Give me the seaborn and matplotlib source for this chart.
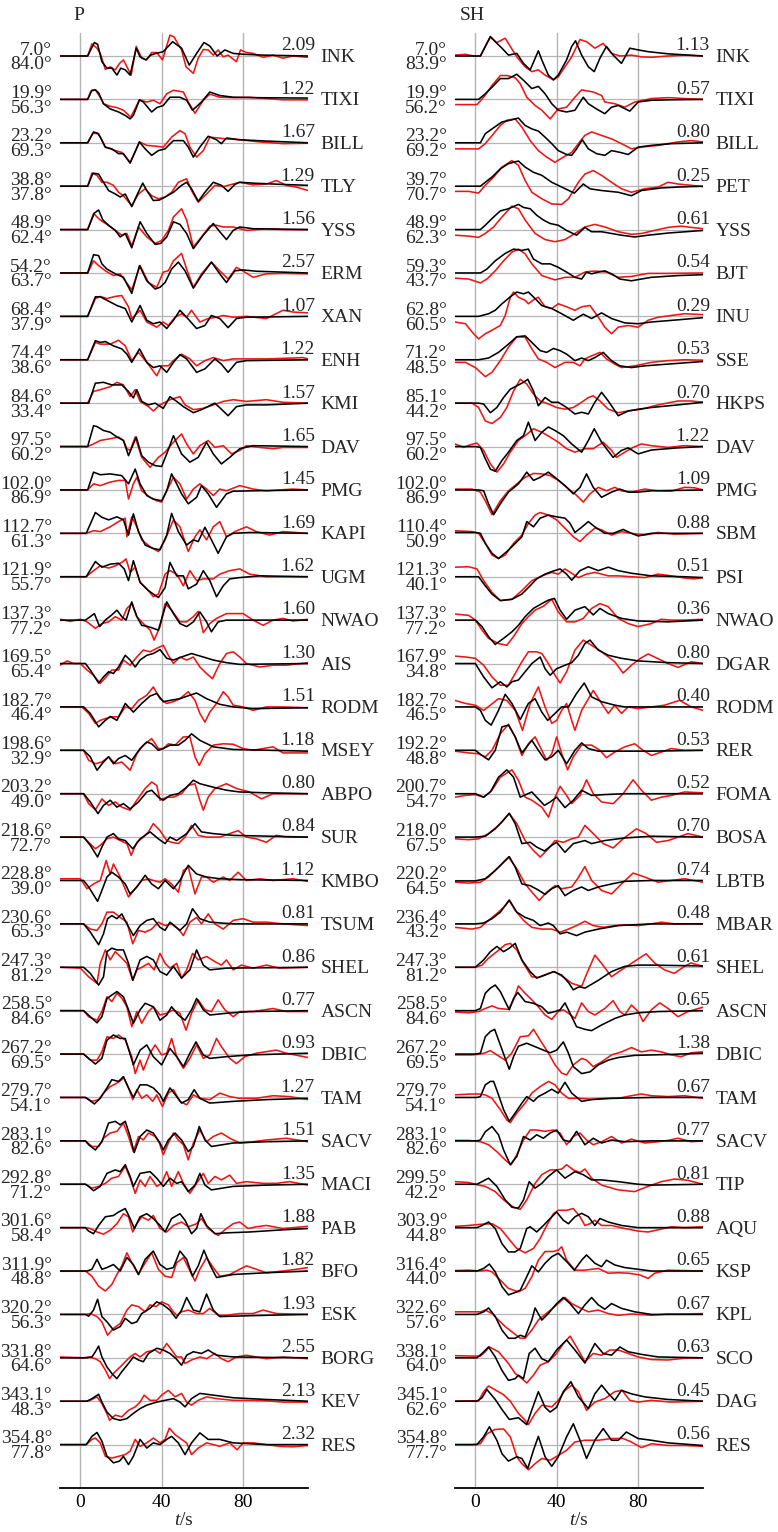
import matplotlib
matplotlib.use("Agg")
import matplotlib.pyplot as plt
import pandas as pd
import seaborn as sns
from matplotlib.transforms import blended_transform_factory

# ---------------- station tables ----------------
P_STATIONS = ["INK", "TIXI", "BILL", "TLY", "YSS", "ERM", "XAN", "ENH", "KMI", "DAV", "PMG",
              "KAPI", "UGM", "NWAO", "AIS", "RODM", "MSEY", "ABPO", "SUR", "KMBO", "TSUM",
              "SHEL", "ASCN", "DBIC", "TAM", "SACV", "MACI", "PAB", "BFO", "ESK", "BORG", "KEV", "RES"]
P_AZ = [7.0, 19.9, 23.2, 38.8, 48.9, 54.2, 68.4, 74.4, 84.6, 97.5, 102.0, 112.7, 121.9, 137.3,
        169.5, 182.7, 198.6, 203.2, 218.6, 228.8, 230.6, 247.3, 258.5, 267.2, 279.7, 283.1,
        292.8, 301.6, 311.9, 320.2, 331.8, 343.1, 354.8]
P_DIST = [84.0, 56.3, 69.3, 37.8, 62.4, 63.7, 37.9, 38.6, 33.4, 60.2, 86.9, 61.3, 55.7, 77.2,
          65.4, 46.4, 32.9, 49.0, 72.7, 39.0, 65.3, 81.2, 84.6, 69.5, 54.1, 82.6, 71.2, 58.4,
          48.8, 56.3, 64.6, 48.3, 77.8]
P_AMP = [2.09, 1.22, 1.67, 1.29, 1.56, 2.57, 1.07, 1.22, 1.57, 1.65, 1.45, 1.69, 1.62, 1.60,
         1.30, 1.51, 1.18, 0.80, 0.84, 1.12, 0.81, 0.86, 0.77, 0.93, 1.27, 1.51, 1.35, 1.88,
         1.82, 1.93, 2.55, 2.13, 2.32]

SH_STATIONS = ["INK", "TIXI", "BILL", "PET", "YSS", "BJT", "INU", "SSE", "HKPS", "DAV", "PMG",
               "SBM", "PSI", "NWAO", "DGAR", "RODM", "RER", "FOMA", "BOSA", "LBTB", "MBAR",
               "SHEL", "ASCN", "DBIC", "TAM", "SACV", "TIP", "AQU", "KSP", "KPL", "SCO", "DAG", "RES"]
SH_AZ = [7.0, 19.9, 23.2, 39.7, 48.9, 59.3, 62.8, 71.2, 85.1, 97.5, 102.0, 110.4, 121.3, 137.3,
         167.9, 182.7, 192.2, 200.7, 218.0, 220.2, 236.4, 247.3, 258.5, 267.2, 279.7, 283.1,
         299.5, 303.9, 316.4, 322.6, 338.1, 345.1, 354.8]
SH_DIST = [83.9, 56.2, 69.2, 70.7, 62.3, 43.7, 60.5, 48.5, 44.2, 60.2, 86.9, 50.9, 40.1, 77.2,
           34.8, 46.5, 48.8, 54.7, 67.5, 64.5, 43.2, 81.2, 84.6, 69.5, 54.1, 82.6, 42.2, 44.8,
           44.0, 57.6, 64.0, 62.6, 77.7]
SH_AMP = [1.13, 0.57, 0.80, 0.25, 0.61, 0.54, 0.29, 0.53, 0.70, 1.22, 1.09, 0.88, 0.51, 0.36,
          0.80, 0.40, 0.53, 0.52, 0.70, 0.74, 0.48, 0.61, 0.65, 1.38, 0.67, 0.77, 0.81, 0.88,
          0.65, 0.67, 0.63, 0.45, 0.56]

# ---------------- waveforms: (t [s], normalised amplitude) ----------------
P_OBS = {
    "INK": [(-10,0),(3.6,0),(6.9,3.1),(8.5,2.7),(10.6,-1.3),(13.1,-2.8),(15.5,-2.8),(18.0,-4.4),(19.9,-2.8),(22.1,-3.2),(24.5,-4.4),(27.5,1.8),(29.4,-0.2),(32.2,-0.9),(34.6,0.2),(37.3,0.6),(40.8,1.0),(45.4,3.3),(49.8,1.8),(53.6,-2.1),(57.2,0.6),(60.8,3.1),(63.7,2.3),(67.3,0),(71.1,1.4),(75.2,0.6),(80,0.4),(90,0.2),(112,0)],
    "TIXI": [(-10,0),(3.6,0),(5.7,2.1),(7.4,2.2),(9.0,1.5),(11.4,-1.0),(14.7,-2.2),(18.8,-2.9),(22.1,-3.7),(24.5,-4.5),(26.1,-3.7),(29.1,-0.1),(31.0,-0.6),(35.1,-2.9),(37.6,-1.9),(40.8,-1.4),(44.1,0.5),(49.0,0.5),(52.3,-0.2),(55.2,-2.5),(59.6,-0.6),(63.7,1.7),(68.6,0.9),(75.2,0.5),(85,0.4),(112,0.3)],
    "BILL": [(-10,0),(3.6,0),(6.5,2.5),(8.5,2.2),(9.8,1.3),(12.3,-1.0),(15.5,-1.4),(18.8,-2.5),(21.2,-2.5),(24.5,-4.7),(29.1,0.2),(31.9,-1.4),(35.1,-2.9),(38.4,-1.8),(41.7,-1.4),(45.8,0.5),(50.7,0.5),(53.1,-1.0),(55.6,-3.3),(58.8,-1.0),(62.9,1.5),(67.0,0.7),(69.4,-0.2),(71.9,1.1),(78.4,0.7),(91.5,0.4),(112,0)],
    "TLY": [(-10,0),(3.6,0),(6.2,3.0),(9.0,2.8),(11.4,0.9),(13.9,-1.0),(17.2,-1.8),(19.6,-2.5),(22.1,-1.8),(25.3,-4.7),(28.1,-1.8),(30.7,0.7),(32.7,-1.0),(35.9,-3.3),(38.9,-3.2),(41.7,-2.5),(45.8,-1.4),(49.8,0.2),(52.3,0.9),(54.7,-0.6),(58.0,-3.5),(61.3,-1.4),(65.4,0.9),(69.4,0.2),(72.7,-1.2),(76.0,0.4),(78.4,0.9),(85,0.7),(99.7,0.4),(112,0.2)],
    "YSS": [(-10,0),(3.6,0),(6.9,3.8),(9.0,4.5),(11.1,2.2),(13.9,1.0),(17.2,-0.2),(19.6,-1.7),(22.1,-0.9),(25.3,-4.2),(29.4,1.8),(32.7,-0.9),(36.8,-3.4),(39.5,-3.2),(42.5,-1.7),(45.8,1.8),(49.0,1.2),(52.3,-0.9),(55.6,-4.4),(60.5,-1.3),(65.4,1.4),(68.6,-0.5),(71.9,-2.3),(75.2,-0.2),(78.4,0.6),(85,0.2),(112,0)],
    "ERM": [(-10,0),(3.6,0),(6.5,4.2),(9.0,4.0),(10.6,2.1),(13.1,0.9),(17.2,-0.2),(21.2,-1.0),(25.3,-4.7),(29.1,1.7),(32.7,-1.8),(36.8,-3.7),(39.2,-3.3),(41.7,-2.2),(44.9,0.9),(48.2,2.5),(51.5,0.5),(55.6,-3.5),(59.6,-0.6),(64.5,2.5),(68.6,-0.2),(71.9,-2.2),(76.0,0.5),(80.1,0.7),(86.6,0.4),(112,0)],
    "XAN": [(-10,0),(3.6,0),(7.4,4.5),(9.8,4.5),(13.1,3.7),(18.0,2.5),(22.1,1.8),(25.3,-1.3),(29.4,2.5),(32.7,-0.9),(35.9,-1.7),(39.2,-1.3),(42.5,-2.8),(45.8,-0.9),(49.0,1.4),(52.3,-0.2),(57.2,-2.8),(61.3,-2.1),(64.5,0.2),(68.6,-0.5),(72.7,-2.6),(76.8,-0.5),(81.7,-0.2),(112,0)],
    "ENH": [(-10,0),(3.6,0),(7.4,4.4),(9.8,4.0),(12.3,4.2),(16.3,3.2),(20.4,2.5),(22.9,1.3),(25.3,-0.6),(29.1,2.5),(32.7,-0.6),(35.9,-1.8),(39.2,-1.4),(42.5,-2.9),(45.8,-0.6),(49.0,1.2),(52.3,0.2),(57.2,-2.9),(61.3,-2.1),(66.2,0.2),(69.4,-1.0),(72.7,-2.9),(76.8,-0.6),(81.7,-0.2),(112,0)],
    "KMI": [(-10,0),(4.1,0),(7.4,4.6),(11.4,4.8),(15.5,4.2),(20.4,4.2),(23.7,2.7),(26.1,1.2),(27.8,3.1),(30.2,0.4),(33.5,-0.4),(36.8,0),(40.8,-1.2),(44.1,1.5),(47.4,0.4),(50.7,-0.8),(55.6,-2.2),(59.6,-1.5),(66.2,0),(69.4,-1.4),(72.7,-2.9),(76.8,-0.8),(81.7,-0.4),(91.5,-0.4),(112,0)],
    "DAV": [(-10,0),(3.6,0),(6.5,4.8),(8.2,4.6),(11.4,3.7),(14.7,3.3),(18.0,2.2),(21.2,1.4),(23.7,-2.1),(27.5,2.2),(30.2,-2.1),(33.5,-3.6),(36.8,-4.4),(40.0,-4.6),(42.5,-1.7),(45.8,2.5),(49.8,-1.7),(53.9,-3.6),(58.0,-2.5),(62.1,1.0),(65.4,-1.7),(69.4,-4.0),(73.5,-2.5),(78.4,-0.5),(85,0.2),(112,0)],
    "PMG": [(-10,0),(3.6,0),(6.5,4.1),(9.8,3.5),(14.7,3.7),(20.4,3.3),(23.7,1.4),(27.0,4.8),(29.4,1.4),(32.7,-1.3),(35.9,-2.1),(40.0,-2.5),(42.5,-0.2),(44.9,3.7),(47.4,1.4),(49.8,-0.9),(53.1,-3.2),(57.2,-1.7),(59.6,1.0),(62.9,-0.9),(67.0,-4.0),(71.9,-0.9),(75.2,-0.3),(85,-0.2),(112,0)],
    "KAPI": [(-10,0),(2.9,0),(7.4,4.8),(10.6,3.7),(13.9,3.1),(18.0,3.8),(21.2,3.1),(23.7,-0.4),(26.1,4.5),(28.6,0.4),(31.9,-2.7),(35.9,-3.5),(39.2,-3.8),(42.5,-0.4),(44.9,4.6),(48.2,0.4),(52.3,-2.7),(55.6,-1.5),(58.0,-1.9),(61.3,1.4),(64.5,-1.5),(67.8,-4.6),(71.9,-0.8),(75.2,0),(83.3,0.2),(112,0)],
    "UGM": [(-10,0),(2.9,0),(7.4,3.5),(10.6,2.2),(14.7,2.9),(18.8,3.1),(21.6,1.8),(23.7,-0.9),(26.1,3.7),(29.4,-1.3),(33.5,-3.2),(38.4,-4.8),(41.7,-2.5),(44.1,3.3),(47.4,0.2),(50.7,0.2),(53.1,-2.8),(57.2,-1.7),(60.5,1.4),(63.7,-0.9),(67.0,-4.6),(70.3,-2.1),(73.5,-0.5),(78.4,-0.2),(88.2,0.2),(112,0)],
    "NWAO": [(-10,0),(2.5,0),(4.9,0.8),(6.9,1.5),(9.5,-1.5),(12.3,0),(15.5,1.2),(18.0,2.3),(20.4,0.8),(22.5,0),(25.3,4.2),(27.8,0.8),(30.2,-1.2),(33.5,-1.5),(38.4,-2.3),(42.5,4.2),(45.8,1.5),(49.0,-0.8),(52.3,-1.5),(55.6,-0.4),(58.8,1.9),(62.1,-0.4),(64.5,-2.7),(67.8,-0.4),(71.9,0),(112,0)],
    "AIS": [(-10,0),(2.5,0),(4.9,-1.5),(9.0,-4.5),(11.4,-3.1),(13.9,-1.9),(16.3,-2.3),(18.8,-0.8),(22.1,1.9),(24.5,0.8),(27.0,-0.8),(29.4,0.8),(32.7,1.9),(35.9,2.3),(39.2,3.2),(42.5,1.2),(45.8,0.8),(49.8,1.5),(54.7,2.3),(60.5,1.5),(65.4,0.8),(71.9,0.2),(78.4,-0.2),(112,0)],
    "RODM": [(-10,0),(1.6,0),(4.9,-1.5),(9.0,-4.6),(12.3,-3.1),(14.7,-2.2),(18.0,-3.1),(22.1,0.8),(26.1,-1.2),(30.2,0.8),(34.3,2.5),(37.6,3.1),(40.8,1.2),(44.1,1.5),(49.0,1.9),(53.9,2.7),(57.2,3.2),(62.1,1.9),(68.6,0.6),(75.2,0),(85,-0.4),(112,-0.2)],
    "MSEY": [(-10,0),(1.6,0),(4.9,-1.5),(8.2,-4.6),(11.4,-2.7),(13.9,-1.5),(16.3,-3.1),(18.8,-1.9),(22.1,-1.2),(25.3,-2.3),(29.4,0.4),(32.7,1.9),(35.1,1.5),(38.4,0),(40.8,0.4),(44.1,1.2),(48.2,1.2),(51.5,2.3),(54.7,3.8),(58.8,2.3),(65.4,0.8),(75.2,0.2),(112,-0.2)],
    "ABPO": [(-10,0),(1.6,0),(4.9,-1.9),(8.7,-4.6),(11.4,-2.7),(14.7,-1.5),(18.0,-3.1),(21.2,-2.3),(24.5,-3.5),(28.6,-1.9),(32.7,0.4),(35.1,0.8),(38.4,-0.8),(40.8,-1.5),(44.1,-0.4),(48.2,0),(52.3,1.5),(55.6,3.1),(58.8,2.3),(65.4,1.5),(71.9,0.8),(78.4,0.4),(91.5,0.2),(112,0)],
    "SUR": [(-10,0),(1.6,0),(4.9,-1.9),(8.5,-4.6),(10.6,-2.3),(13.1,0),(16.3,0.8),(18.8,-0.4),(22.1,-0.8),(25.8,-2.7),(29.4,-0.4),(34.3,1.2),(38.4,-0.4),(41.7,-1.5),(44.1,0),(47.4,-0.8),(52.3,0.8),(56.4,3.1),(59.6,1.2),(65.4,0.8),(75.2,0.4),(112,0)],
    "KMBO": [(-10,0),(1.6,0),(4.1,-1.5),(8.5,-4.8),(10.6,-2.3),(13.1,0.8),(15.5,1.9),(18.8,0.8),(22.1,-0.8),(24.5,-3.1),(27.8,-1.5),(31.9,1.2),(35.1,-0.8),(38.4,-1.9),(41.7,0),(45.8,-1.9),(49.0,0),(53.1,3.5),(57.2,1.5),(62.1,0.8),(68.6,0.4),(78.4,0.2),(112,0)],
    "TSUM": [(-10,0),(1.6,0),(4.9,-1.9),(9.0,-4.8),(11.4,-2.3),(13.4,1.2),(15.5,1.9),(18.0,1.2),(20.4,2.3),(22.9,0),(26.1,-2.7),(29.4,-0.4),(32.7,0.8),(35.9,1.2),(39.2,-0.8),(41.7,-1.5),(44.1,0.4),(49.0,-1.5),(52.3,0),(55.2,3.5),(58.8,1.2),(63.7,0.4),(75.2,0),(112,0)],
    "SHEL": [(-10,0),(1.6,0),(4.9,-1.4),(9.0,-4.1),(11.4,-2.2),(13.1,3.6),(15.5,4.4),(18.0,4.0),(21.2,4.0),(23.7,0.9),(25.8,-3.0),(29.4,1.7),(32.7,2.5),(35.9,1.7),(39.2,-1.0),(42.5,-1.8),(45.8,0.2),(49.8,-2.5),(53.9,-0.6),(57.2,4.0),(60.5,0.5),(63.7,-0.6),(71.9,-0.2),(112,0)],
    "ASCN": [(-10,0),(1.6,0),(4.9,-1.4),(8.2,-2.8),(10.6,-1.4),(13.1,2.8),(15.5,3.6),(18.0,4.4),(21.2,3.2),(23.7,0.2),(26.1,-2.9),(29.4,0.2),(31.9,1.7),(35.9,0.9),(39.2,-2.2),(42.5,-1.0),(44.9,0.9),(48.2,-1.0),(51.5,-2.2),(54.7,0.2),(57.2,2.8),(60.5,0.2),(63.7,-1.0),(71.9,-0.6),(83.3,-0.2),(112,0)],
    "DBIC": [(-10,0),(1.6,0),(4.1,-1.0),(7.4,-2.3),(10.6,-1.0),(13.1,3.2),(16.3,4.4),(19.6,3.6),(22.1,3.6),(26.1,-2.5),(29.4,0.9),(32.7,2.1),(35.9,-0.6),(40.0,-2.5),(44.1,1.3),(47.4,-0.6),(50.7,-2.9),(53.9,0.2),(56.9,2.8),(60.5,-0.2),(63.7,-1.0),(71.9,-0.6),(83.3,-0.2),(112,0.2)],
    "TAM": [(-10,0),(2.5,0),(4.1,-0.5),(6.9,-1.5),(9.8,-0.2),(13.1,2.2),(15.5,4.1),(18.8,3.7),(21.2,4.8),(23.7,2.2),(26.1,0),(29.4,2.9),(32.7,2.9),(35.9,2.2),(39.2,0.6),(40.8,-0.9),(44.1,2.2),(47.4,0.2),(49.8,-1.3),(53.1,-0.5),(56.0,1.8),(58.8,-0.2),(63.7,-1.3),(75.2,-0.9),(91.5,-0.5),(112,-0.2)],
    "SACV": [(-10,0),(2.5,0),(4.1,-0.9),(7.4,-2.1),(10.6,-0.2),(13.9,4.1),(17.2,4.5),(19.6,3.7),(22.1,4.5),(24.5,1.0),(26.5,-2.7),(29.4,1.0),(32.7,2.5),(35.9,1.8),(39.2,-0.5),(40.8,-2.1),(43.3,0.2),(46.6,1.8),(49.8,0.2),(53.1,-2.5),(55.6,-1.3),(58.5,3.3),(61.3,0.2),(64.5,-1.3),(75.2,-0.5),(91.5,-0.2),(112,0)],
    "MACI": [(-10,0),(2.5,0),(4.1,-0.5),(6.5,-1.5),(9.8,-0.5),(13.1,2.5),(17.2,3.3),(19.6,2.9),(22.1,4.5),(24.5,1.8),(26.1,-0.5),(29.4,2.5),(34.3,2.9),(37.6,1.4),(40.8,-0.5),(44.1,1.4),(47.4,0.2),(49.8,0.6),(53.1,-1.7),(56.4,-0.2),(58.8,2.5),(61.3,-0.2),(64.5,-1.3),(75.2,-0.5),(91.5,-0.2),(112,0)],
    "PAB": [(-10,0),(2.5,0),(4.1,-0.8),(6.5,-1.4),(9.0,0.5),(12.3,2.5),(16.3,2.8),(18.8,3.6),(22.1,4.4),(24.5,2.1),(26.6,-0.2),(29.4,2.5),(32.7,3.2),(35.9,2.1),(39.2,0.5),(41.7,-1.0),(44.9,2.1),(49.0,3.2),(51.5,1.7),(54.7,-1.4),(57.2,-0.2),(59.3,3.2),(62.1,0.5),(66.2,-1.4),(71.9,-1.2),(83.3,-1.0),(99.7,-0.5),(112,-0.2)],
    "BFO": [(-10,0),(3.3,0),(5.7,0.4),(8.2,2.7),(10.6,0.4),(13.1,0.8),(16.3,1.5),(19.6,0),(22.9,3.1),(26.1,1.5),(28.6,-0.8),(31.9,2.7),(35.9,4.6),(39.2,1.5),(42.5,0.4),(45.8,0.8),(49.0,4.6),(52.3,2.7),(55.2,-1.2),(58.0,1.2),(60.8,4.8),(63.7,1.5),(67.0,-1.5),(75.2,-0.8),(91.5,-0.4),(112,0)],
    "ESK": [(-10,0),(2.5,0),(4.1,-0.4),(6.5,1.0),(8.5,3.5),(10.6,-0.5),(13.1,-1.7),(16.3,-3.6),(19.6,-2.8),(22.1,-0.9),(25.3,-2.1),(27.8,-1.7),(30.2,0.2),(34.3,1.4),(37.6,2.9),(40.8,2.2),(44.1,1.0),(47.1,-0.9),(49.8,1.0),(52.3,3.9),(55.6,1.0),(58.8,0.6),(62.1,4.7),(65.4,1.0),(68.6,-0.5),(75.2,-0.4),(91.5,-0.2),(112,0)],
    "BORG": [(-10,0),(3.3,0),(5.7,0.2),(7.4,1.4),(9.0,2.7),(10.6,0.2),(13.1,-2.1),(15.5,-3.6),(18.0,-4.8),(20.4,-3.2),(23.7,-1.3),(26.1,0.2),(28.6,-0.5),(31.0,-0.9),(33.5,1.0),(37.6,2.2),(40.8,1.8),(44.1,1.0),(47.1,-0.2),(49.8,-1.7),(52.3,0.6),(55.6,1.4),(59.6,1.0),(62.9,1.8),(67.0,0.6),(75.2,0.2),(91.5,0.1),(112,0)],
    "KEV": [(-10,0),(3.3,0),(5.7,0.6),(9.0,1.6),(10.6,-0.2),(13.1,-2.5),(16.3,-4.0),(19.6,-4.4),(22.9,-4.0),(26.1,-2.8),(29.4,-1.7),(32.7,-0.9),(37.6,-0.2),(41.7,0.2),(45.8,0.6),(49.0,-0.2),(51.5,-1.3),(54.7,0.6),(58.8,1.8),(65.4,1.4),(75.2,0.8),(91.5,0.4),(112,0)],
    "RES": [(-10,0),(2.9,0),(5.7,1.9),(8.2,2.8),(10.6,0.8),(13.1,-2.7),(16.3,-4.2),(19.3,-3.8),(21.2,-2.7),(23.7,-4.6),(26.1,-2.7),(29.4,1.2),(32.7,-0.8),(35.9,0.4),(39.2,0),(42.5,1.2),(44.9,1.9),(48.2,0.4),(51.5,-2.3),(54.7,0.4),(58.8,2.7),(62.9,1.2),(68.6,1.2),(75.2,0.4),(91.5,0),(112,0)],
}

P_SYN = {
    "INK": [(-10,0),(3.6,0),(5.7,2.8),(8.2,1.8),(9.8,0.6),(12.3,-3.1),(14.7,-2.5),(17.2,-3.2),(19.3,-1.7),(21.2,-0.9),(22.5,-2.1),(25.0,-4.4),(27.5,2.2),(30.2,-0.5),(32.7,-0.9),(35.1,0.8),(37.6,0.8),(40.4,-0.9),(44.1,4.8),(46.1,4.4),(47.4,3.3),(49.8,1.4),(52.0,-2.5),(55.6,-4.0),(58.0,-0.5),(60.5,1.5),(62.9,1.4),(65.4,0.2),(67.8,1.4),(70.3,-0.2),(72.7,0.2),(76.8,-1.3),(78.8,1.4),(81.7,0.8),(85,0.6),(89.9,-0.3),(94.8,0.2),(99.7,-0.5),(104.6,0),(112,-0.3)],
    "TIXI": [(-10,0),(3.6,0),(5.2,1.9),(7.4,2.2),(9.8,0.5),(11.4,-1.0),(14.7,-1.6),(18.0,-1.9),(21.2,-2.5),(24.8,-4.1),(29.1,-0.1),(32.7,-0.6),(35.9,-0.2),(39.2,-1.0),(42.5,1.3),(45.8,2.1),(50.7,1.7),(53.1,-0.6),(56.4,-3.2),(60.5,-0.2),(63.7,1.2),(68.6,0.5),(75.2,0.4),(83.3,0.5),(91.5,0.2),(99.7,-0.1),(112,-0.1)],
    "BILL": [(-10,0),(3.6,0),(6.2,2.2),(9.0,2.1),(12.3,-1.0),(17.2,-1.8),(20.4,-2.2),(24.5,-4.5),(29.1,0.2),(32.7,-0.6),(37.6,-0.8),(40.8,-1.0),(44.9,1.3),(49.0,2.8),(51.5,2.1),(53.9,-1.0),(57.2,-3.3),(60.5,-1.8),(63.7,1.3),(67.8,1.1),(71.9,0.9),(78.4,0.7),(88.2,0.2),(99.7,-0.2),(112,-0.1)],
    "TLY": [(-10,0),(3.6,0),(5.7,3.0),(8.2,2.5),(10.6,0.9),(13.1,0.9),(16.3,0.2),(18.8,-1.4),(21.2,-2.2),(25.3,-4.5),(28.6,-1.8),(31.9,-0.6),(35.1,-2.2),(38.4,-2.9),(41.7,-2.5),(44.9,-1.4),(48.2,0.9),(52.3,1.7),(54.7,-1.0),(58.0,-3.7),(62.1,-1.8),(66.2,0.2),(70.3,-0.1),(75.2,0.5),(78.4,0.9),(85,0.3),(91.5,0.5),(96.4,1.3),(101.3,0.2),(106.2,-0.2),(112,-1.0)],
    "YSS": [(-10,0),(3.6,0),(6.5,3.7),(9.8,2.2),(13.1,1.2),(17.2,-0.2),(20.4,-1.3),(22.9,-0.9),(25.3,-3.8),(28.6,0.6),(32.7,-1.7),(36.8,-3.2),(40.0,-2.5),(43.3,-0.2),(45.8,2.9),(49.8,4.8),(52.3,2.2),(55.6,-4.0),(59.6,-1.7),(63.7,0.8),(67.0,1.0),(70.3,0.6),(75.2,0.6),(81.7,-0.2),(91.5,0.2),(99.7,0),(112,0)],
    "ERM": [(-10,0),(3.6,0),(6.5,2.8),(9.0,1.7),(12.3,0.5),(16.3,-0.6),(19.6,-0.2),(25.3,-3.9),(29.4,1.7),(33.5,-2.2),(37.6,-3.3),(40.8,0.2),(43.3,0.5),(45.8,2.8),(49.8,4.5),(52.3,0.9),(55.6,-3.3),(59.6,-0.2),(64.5,2.5),(68.6,0.5),(72.7,-1.4),(76.8,1.3),(80.9,0.2),(85,-1.0),(91.5,-0.2),(99.7,-0.1),(112,-0.2)],
    "XAN": [(-10,0),(3.6,0),(7.4,4.1),(9.8,4.6),(13.1,4.1),(17.2,4.6),(20.4,4.8),(23.7,2.2),(25.3,-0.5),(29.4,1.4),(32.7,-1.3),(37.6,-2.5),(40.8,-1.3),(43.3,-2.1),(46.6,-0.2),(49.8,0.6),(52.3,-0.2),(54.7,1.4),(58.8,-1.3),(62.9,-0.5),(67.0,-0.2),(70.3,0.2),(75.2,-0.2),(81.7,0),(91.5,-0.5),(99.7,1.4),(104.6,1.0),(112,0.8)],
    "ENH": [(-10,0),(3.6,0),(7.4,4.0),(9.8,3.6),(14.7,3.6),(18.8,4.5),(22.1,3.2),(25.3,-0.2),(28.6,1.7),(32.7,-0.6),(37.6,-3.7),(40.0,-1.4),(43.3,-1.4),(45.8,-0.2),(49.8,1.3),(53.9,0.2),(57.2,-1.4),(61.3,-0.2),(65.4,0.5),(70.3,-0.2),(75.2,0.2),(83.3,0.2),(91.5,0.2),(104.6,0.4),(109.5,0.5),(112,0.2)],
    "KMI": [(-10,0),(3.6,0),(6.5,2.7),(9.8,3.1),(14.7,3.8),(18.0,4.8),(21.2,4.2),(24.5,1.5),(27.0,3.1),(29.4,0.4),(33.5,-0.8),(35.9,-1.8),(39.2,-0.4),(44.1,0.8),(49.0,1.5),(51.5,-0.4),(55.6,-1.5),(60.5,-1.2),(65.4,-0.4),(70.3,0.4),(75.2,0.8),(81.7,0.4),(91.5,0.8),(99.7,0.2),(112,0)],
    "DAV": [(-10,0),(3.6,0),(6.5,0.6),(9.8,1.4),(14.7,1.8),(18.8,2.2),(21.2,1.4),(22.9,-0.5),(24.5,-0.9),(27.0,2.2),(30.2,-2.5),(34.3,-4.8),(38.4,-2.5),(41.7,-1.3),(45.8,1.0),(49.8,2.9),(52.3,0.6),(55.6,-1.7),(58.8,0.2),(62.9,1.4),(66.2,-0.2),(70.3,0.2),(74.4,-1.7),(78.4,-0.9),(81.7,0.2),(88.2,-0.2),(94.8,-0.5),(99.7,-0.2),(112,-0.2)],
    "PMG": [(-10,0),(3.6,0),(6.5,1.4),(9.8,1.0),(14.7,1.8),(18.8,2.2),(22.1,2.2),(23.7,-2.1),(26.1,1.4),(27.8,2.9),(30.2,-0.2),(34.3,-1.7),(37.6,-2.5),(40.0,-2.8),(42.5,-0.2),(45.8,2.9),(49.0,1.4),(52.3,-2.1),(55.6,0.2),(58.8,1.4),(62.1,0.2),(65.4,-1.3),(68.6,0.2),(71.9,-0.2),(78.4,1.0),(85,0.2),(91.5,-0.2),(104.6,0.2),(112,0)],
    "KAPI": [(-10,0),(2.9,0),(6.5,0.6),(9.8,0.4),(14.7,1.5),(18.8,2.7),(22.1,3.5),(22.9,-0.8),(25.3,3.8),(27.8,1.5),(30.2,-1.5),(34.3,-3.1),(38.4,-4.2),(41.7,-1.5),(45.8,3.1),(49.0,1.5),(53.1,-4.2),(56.4,-0.8),(58.8,0.8),(62.1,-1.5),(65.4,1.5),(68.6,2.7),(71.9,-0.8),(76.0,0.4),(81.7,1.5),(86.6,0.4),(93.1,-0.4),(99.7,0.4),(112,0)],
    "UGM": [(-10,0),(2.9,0),(6.5,1.4),(9.8,2.5),(13.9,2.0),(17.2,2.5),(20.4,3.3),(22.5,4.1),(24.5,1.0),(27.0,2.2),(29.4,-1.3),(33.5,-3.2),(35.9,-4.6),(38.4,-4.0),(41.7,0.6),(44.1,1.4),(47.4,0.6),(50.7,-2.1),(53.9,1.4),(57.2,-0.9),(60.5,-0.5),(65.4,-0.5),(68.6,0.6),(73.5,1.4),(78.4,1.8),(83.3,0.6),(91.5,0),(112,0)],
    "NWAO": [(-10,0.2),(-5,-0.3),(0,0.2),(3.3,-0.4),(7.4,-1.9),(10.6,-0.8),(13.9,-0.4),(17.2,0.8),(20.4,0),(22.9,2.7),(25.3,3.8),(27.8,0.8),(31.0,-0.8),(34.3,-2.3),(36.3,-4.6),(39.2,-1.5),(41.7,3.8),(44.9,2.3),(49.0,-0.4),(52.3,-0.4),(55.6,0.8),(58.0,2.0),(60.5,-2.9),(63.7,-0.8),(67.0,0.4),(71.9,1.5),(75.2,1.5),(80.1,1.5),(85,0),(89.9,-1.2),(94.8,0),(99.7,0.4),(104.6,-0.2),(112,0.2)],
    "AIS": [(-10,-0.4),(-6.5,0.6),(-3.3,0),(0,0),(3.3,-1.5),(6.5,-2.7),(9.8,-4.6),(12.7,-3.1),(15.5,-1.5),(18.8,-1.5),(21.2,0.8),(24.5,-0.4),(27.8,1.5),(31.0,3.1),(34.3,2.7),(37.6,3.5),(40.8,4.2),(43.3,1.9),(45.8,0),(49.0,1.5),(52.3,0.8),(55.6,1.5),(58.8,-0.8),(62.1,-2.3),(65.0,-3.5),(68.6,0),(71.9,2.3),(75.2,2.7),(78.4,1.5),(81.7,0),(88.2,-0.8),(94.8,-0.4),(101.3,-0.4),(112,0.2)],
    "RODM": [(-10,0),(0.8,0),(4.1,-1.5),(7.4,-3.8),(9.8,-3.1),(12.3,-2.7),(15.5,-2.3),(18.8,-2.3),(22.1,0),(25.3,-0.4),(28.6,1.5),(32.7,2.7),(35.9,4.6),(39.2,1.9),(42.5,0.8),(45.8,1.2),(49.0,1.9),(53.1,3.5),(56.4,1.5),(58.8,-1.5),(61.3,-3.5),(63.7,-1.2),(67.0,0.8),(70.3,3.5),(72.7,2.3),(75.2,0.4),(80.1,0),(85,-0.8),(91.5,0),(99.7,0),(112,-0.2)],
    "MSEY": [(-10,0),(1.6,0),(4.1,-2.3),(7.4,-3.1),(10.6,-2.7),(13.9,-1.5),(17.2,-3.1),(20.4,-2.7),(24.5,-4.6),(27.8,-0.8),(31.0,1.2),(35.1,2.7),(38.4,0.4),(40.8,0.4),(43.3,1.5),(46.6,1.2),(50.7,3.1),(53.9,3.1),(56.4,-1.5),(58.5,-3.5),(61.3,-0.8),(65.4,1.2),(70.3,1.5),(75.2,1.4),(80.1,0.4),(85,0),(89.9,0.4),(94.8,0.8),(99.7,-0.6),(112,-0.6)],
    "ABPO": [(-10,0),(1.6,0),(4.1,-2.3),(7.4,-3.7),(10.6,-1.2),(13.9,-2.7),(17.2,-1.9),(20.4,-3.1),(24.5,-3.8),(27.8,-1.5),(31.9,1.2),(35.1,2.7),(37.6,1.9),(39.2,-1.5),(42.5,-0.8),(45.8,-0.8),(49.8,0),(53.1,1.9),(56.4,2.3),(58.8,-1.5),(60.5,-3.8),(62.9,-0.8),(66.2,1.2),(71.9,2.3),(76.8,1.2),(83.3,0.4),(89.1,-1.2),(94.8,0),(112,0)],
    "SUR": [(-10,0),(1.6,0),(4.1,-1.2),(7.4,-2.7),(9.8,-1.9),(13.1,-0.4),(16.3,0),(19.6,-0.8),(22.9,-1.5),(25.0,-4.2),(27.8,-1.2),(31.0,0),(33.5,1.2),(35.9,3.1),(39.2,1.5),(42.5,-0.8),(44.9,-1.2),(48.2,-1.5),(51.5,0),(54.7,2.7),(58.0,0.4),(62.1,0),(68.6,0),(73.5,0.8),(77.6,1.5),(81.7,0),(86.6,-0.4),(91.5,-1.2),(96.4,0.4),(101.3,0),(112,0)],
    "KMBO": [(-10,0.4),(0,0.4),(3.3,-1.9),(6.5,-0.8),(9.8,0),(12.7,4.6),(14.7,1.5),(16.3,3.8),(19.6,0.8),(23.7,-3.8),(27.0,-1.9),(30.2,0),(33.5,0.4),(35.9,0),(39.2,-0.4),(41.7,0.4),(44.9,-0.8),(48.2,-2.7),(50.7,2.3),(53.1,3.1),(56.4,-3.1),(59.6,0.8),(62.1,0.8),(65.4,-0.4),(70.3,0.8),(73.5,0),(77.6,1.9),(81.7,0),(88.2,0.4),(94.8,0),(104.6,0.4),(112,-0.2)],
    "TSUM": [(-10,0),(1.6,0),(4.9,-1.2),(8.2,-1.5),(10.6,0),(13.1,2.7),(16.3,2.7),(19.6,1.5),(22.9,0.4),(25.8,-4.6),(28.6,-1.5),(31.9,-1.9),(35.1,-1.2),(38.4,0.4),(41.7,-0.4),(44.9,0),(48.2,-1.2),(50.7,-2.7),(53.9,0.4),(57.2,1.5),(59.6,0),(62.9,2.3),(66.2,0),(70.3,-1.2),(75.2,0.8),(80.1,1.2),(85,0.4),(91.5,0.4),(99.7,0),(112,-0.4)],
    "SHEL": [(-10,0),(0,-0.2),(4.1,-2.2),(8.2,-3.7),(9.8,0.9),(12.3,4.0),(14.7,1.7),(17.2,3.6),(19.6,2.5),(22.9,0.9),(25.8,-3.0),(27.8,-0.6),(31.0,0.2),(33.5,0.9),(36.3,-0.6),(39.2,3.2),(41.7,0.9),(44.1,-0.2),(47.4,0.9),(49.8,-2.5),(52.3,-0.6),(55.2,3.2),(58.0,1.7),(62.1,2.5),(66.2,1.3),(69.4,0.5),(71.9,1.7),(75.2,-0.6),(79.2,0.5),(85,-0.2),(91.5,0.5),(98.0,-0.2),(112,0)],
    "ASCN": [(-10,0),(1.6,0),(4.1,-1.4),(8.2,-2.2),(10.6,-0.2),(13.1,3.2),(15.5,2.1),(18.0,4.0),(20.4,2.9),(22.9,0.9),(25.3,-3.7),(27.8,-0.2),(30.2,-2.9),(33.5,-0.2),(35.9,0.9),(39.2,-1.0),(42.5,-0.6),(45.8,0.2),(49.0,-0.6),(52.0,-4.5),(54.7,-0.6),(58.0,2.5),(61.3,0.2),(64.5,-0.2),(67.8,2.5),(71.1,0.2),(75.2,-1.4),(78.4,-0.2),(85,-0.2),(94.8,0.5),(101.3,-0.2),(112,-0.2)],
    "DBIC": [(-10,0),(1.6,0),(4.9,-1.4),(8.2,-1.4),(10.6,0.5),(13.1,4.0),(16.3,3.6),(18.8,4.4),(22.1,3.2),(25.3,-0.6),(27.0,-4.5),(29.4,-1.4),(31.0,-3.7),(34.3,0.2),(36.8,2.1),(40.0,-0.2),(42.5,0.2),(44.9,3.6),(47.4,-0.6),(50.7,-3.3),(53.9,-1.0),(57.2,2.1),(60.5,-1.0),(63.7,-0.2),(67.0,3.6),(69.4,1.7),(73.5,-1.0),(76.8,-2.2),(80.9,-0.6),(86.6,0.2),(96.4,0.9),(101.3,0.2),(112,-0.8)],
    "TAM": [(-10,0),(2.5,0),(5.7,-0.9),(9.0,-0.5),(11.4,1.0),(14.7,2.5),(18.0,3.3),(20.4,4.1),(21.2,4.7),(23.7,2.2),(25.8,-0.5),(27.8,1.8),(30.2,-0.2),(32.7,0.6),(35.6,-0.9),(37.6,0.6),(40.4,-2.1),(43.3,1.0),(45.8,1.8),(49.0,-0.9),(52.3,-1.7),(55.6,0.6),(58.8,-0.2),(63.7,-0.5),(68.6,1.0),(73.5,0.2),(78.4,-0.2),(86.6,-0.2),(94.8,0.4),(102.9,0.2),(112,-0.5)],
    "SACV": [(-10,0),(2.5,0),(5.7,-1.3),(9.0,-1.3),(11.4,0.6),(14.7,1.8),(18.0,2.2),(21.2,4.1),(23.7,1.0),(26.1,-2.5),(28.6,1.0),(31.0,0.2),(33.5,1.8),(36.8,1.0),(38.9,-0.5),(40.8,-3.2),(43.3,-0.5),(45.8,1.8),(48.2,0.2),(50.7,-0.9),(53.1,-4.4),(55.6,-0.5),(58.8,2.5),(62.1,-0.2),(65.4,1.0),(69.4,1.8),(73.5,0.6),(78.4,-0.5),(85,-0.2),(91.5,0.2),(101.3,0.6),(112,-0.2)],
    "MACI": [(-10,0),(2.5,0),(5.7,-0.9),(9.0,-0.5),(12.3,0.2),(15.5,1.4),(18.8,1.8),(22.1,4.1),(24.5,1.4),(27.0,-2.1),(29.4,1.0),(31.9,-0.5),(34.3,1.8),(37.6,-0.5),(40.0,0.2),(42.5,2.9),(44.9,-0.5),(48.2,2.9),(50.7,0.2),(53.9,-2.1),(57.2,0.2),(60.5,2.5),(62.9,0.2),(66.2,1.8),(69.4,1.0),(73.5,2.1),(76.8,0.2),(81.7,0.6),(89.9,0.2),(96.4,0.2),(102.9,0.6),(112,-0.2)],
    "PAB": [(-10,0),(2.5,0),(4.9,-0.2),(8.2,-1.0),(11.4,-1.5),(14.7,-0.6),(18.0,0.9),(21.2,3.2),(23.7,2.5),(25.8,-1.0),(27.8,0.9),(30.2,2.5),(33.5,1.7),(35.9,2.8),(39.2,-0.2),(42.5,-1.0),(45.8,0.5),(49.8,1.3),(53.1,0.2),(57.2,0.9),(59.6,2.1),(62.9,-0.2),(67.8,-1.8),(71.9,-0.2),(75.2,0.9),(78.4,1.3),(82.5,-0.2),(86.6,0.2),(91.5,0.5),(99.7,-0.2),(112,0.3)],
    "BFO": [(-10,0),(2.5,0),(5.7,-1.2),(9.0,-3.5),(12.3,-4.6),(15.5,-3.1),(18.0,-0.8),(20.4,1.2),(22.9,4.2),(25.3,1.9),(28.6,-0.8),(31.0,1.2),(35.1,4.2),(38.4,0.4),(41.7,-1.2),(44.9,-1.5),(47.4,1.9),(50.7,3.1),(53.1,0.8),(56.4,-2.3),(58.8,0.4),(62.1,3.1),(65.4,0.8),(68.6,-1.2),(73.5,-0.8),(78.4,0.4),(81.7,1.2),(86.6,0.4),(91.5,-0.4),(99.7,0),(106.2,0.4),(112,0.8)],
    "ESK": [(-10,0),(2.5,0),(4.9,0.2),(8.2,-0.5),(10.6,-1.7),(13.4,-4.8),(16.3,-3.2),(19.6,-2.1),(22.9,1.0),(25.3,2.2),(28.6,1.8),(31.9,0.6),(34.3,2.2),(37.3,1.8),(40.0,2.9),(43.3,2.2),(45.8,0.6),(47.4,-0.2),(49.8,0.6),(53.1,1.0),(57.2,0.2),(60.5,0.2),(63.7,1.4),(67.8,-0.2),(71.9,-0.2),(78.4,0.2),(85,0.2),(89.9,1.0),(96.4,0.2),(112,0)],
    "BORG": [(-10,0.2),(1.6,0),(4.1,0.2),(7.4,-0.2),(9.8,-0.9),(12.3,-2.8),(14.4,-4.8),(16.3,-3.6),(19.6,-2.1),(22.1,-0.9),(24.5,0.2),(27.0,1.0),(29.4,0.2),(32.7,1.4),(36.8,1.8),(39.2,1.0),(42.5,3.3),(44.9,1.8),(47.4,0.2),(49.8,0.2),(51.5,-1.3),(54.7,-0.5),(58.8,0.2),(62.1,-0.2),(66.2,1.0),(69.4,-0.2),(72.7,-0.9),(76.8,0.2),(81.7,0.6),(86.6,0.2),(91.5,-0.2),(99.7,0.2),(112,-0.2)],
    "KEV": [(-10,0),(2.5,0),(4.9,0.2),(8.2,1.0),(10.6,-0.5),(13.1,-2.9),(14.4,-4.4),(17.2,-3.2),(20.4,-3.6),(23.7,-2.1),(27.0,-1.3),(29.4,-0.2),(31.4,1.4),(34.3,0.2),(37.6,0.2),(40.0,1.4),(43.3,2.5),(46.6,1.0),(49.8,1.8),(52.3,-0.2),(54.7,-0.9),(58.0,0.2),(62.1,1.0),(67.0,0.6),(75.2,0.2),(83.3,0.2),(91.5,0.1),(99.7,-0.2),(112,-0.2)],
    "RES": [(-10,0),(2.9,0),(5.7,1.2),(7.4,1.5),(9.8,0.4),(12.3,-2.7),(15.5,-3.1),(18.8,-2.7),(22.1,-2.3),(24.5,-1.5),(27.0,1.2),(29.4,-0.4),(32.7,0.4),(35.9,1.5),(39.2,0.4),(41.7,1.2),(43.8,3.8),(46.6,2.3),(49.8,1.2),(52.3,0.4),(54.7,-2.3),(58.0,-0.8),(62.1,0.4),(68.6,-0.4),(73.5,0.4),(77.1,-1.2),(80.1,0.4),(85,0.4),(91.5,0),(98.0,-0.4),(104.6,-0.5),(112,-0.2)],
}

SH_OBS = {
    "INK": [(-10,0),(2.5,0),(4.9,2.2),(7.4,4.5),(9.8,3.3),(13.1,1.8),(16.3,0.2),(20.4,0.6),(23.7,-1.7),(27.0,-3.2),(31.0,1.2),(32.7,-0.9),(35.9,-4.4),(38.4,-5.5),(40.8,-4.4),(44.9,-0.9),(47.4,2.2),(49.3,3.5),(52.3,0.2),(55.6,-2.5),(58.5,-3.6),(61.3,-0.5),(64.5,2.2),(67.8,0.2),(71.9,-1.7),(76.0,1.8),(80.1,1.4),(85,1.0),(94.8,0.5),(112,0)],
    "TIXI": [(-10,0),(1.6,0),(4.9,1.3),(8.2,2.8),(12.3,4.8),(16.3,4.8),(20.4,5.8),(23.7,4.4),(27.8,2.5),(31.0,3.0),(34.3,1.3),(37.6,-1.0),(40.8,-2.5),(44.9,-2.9),(49.0,-2.5),(53.1,0.5),(55.6,-1.0),(59.6,-2.2),(63.7,-3.3),(67.0,-1.8),(70.3,-1.4),(76.0,-2.7),(80.1,-0.6),(86.6,-0.2),(96.4,-0.1),(112,0)],
    "BILL": [(-10,0),(2.5,0),(4.9,2.1),(8.2,3.2),(13.1,4.8),(17.2,5.2),(21.2,5.7),(24.5,4.0),(27.8,3.2),(31.0,2.7),(34.3,1.3),(37.6,-0.2),(40.8,-1.8),(44.9,-2.7),(47.4,-2.9),(49.8,-1.4),(52.6,0.7),(55.6,-1.4),(59.6,-2.5),(63.7,-2.9),(67.0,-1.8),(71.1,-2.2),(75.2,-2.7),(80.1,-1.0),(86.6,-0.6),(96.4,-0.2),(112,0)],
    "PET": [(-10,0),(2.5,0),(4.9,0.9),(8.2,2.1),(12.3,4.0),(16.3,5.2),(21.2,5.8),(24.5,4.4),(28.6,3.2),(32.7,2.5),(37.6,0.9),(42.5,-0.2),(48.7,-1.6),(53.1,0.5),(56.4,-0.6),(62.1,-1.0),(70.3,-1.4),(76.8,-2.2),(81.7,-1.0),(91.5,-0.4),(99.7,-0.2),(112,0)],
    "YSS": [(-10,0),(2.5,0),(4.9,1.0),(9.0,2.9),(12.3,4.3),(16.3,4.8),(21.2,5.8),(23.7,5.1),(27.0,4.8),(30.2,3.3),(33.5,2.2),(36.8,1.4),(40.8,1.0),(44.9,-0.2),(49.8,-1.3),(53.9,0.5),(57.2,-0.5),(62.1,-0.5),(67.0,-0.9),(71.9,-1.3),(78.4,-1.7),(85,-1.3),(94.8,-0.8),(112,-0.2)],
    "BJT": [(-10,0),(2.5,0),(5.7,0.9),(9.8,2.8),(14.7,4.5),(18.8,5.5),(22.9,5.2),(26.1,5.5),(28.6,3.2),(32.7,2.1),(36.8,2.1),(40.8,1.3),(44.9,0.2),(49.0,-1.0),(52.3,-1.4),(54.7,0.2),(57.2,-0.2),(60.5,0.2),(63.7,0.5),(67.0,-0.2),(71.1,-1.4),(76.8,-1.8),(86.6,-1.0),(99.7,-0.6),(112,-0.4)],
    "INU": [(-10,0),(1.6,0),(6.5,0.6),(9.8,1.4),(13.1,2.9),(17.2,4.5),(20.4,5.6),(23.7,5.2),(26.1,5.6),(29.4,4.1),(32.7,2.5),(37.6,1.8),(42.5,0.6),(48.2,-0.9),(53.1,0.5),(57.2,-0.5),(62.1,0.8),(67.0,-0.5),(73.5,-1.5),(80.1,-1.7),(86.6,-1.3),(99.7,-0.8),(112,-0.3)],
    "SSE": [(-10,0),(1.6,0),(6.5,0.4),(11.4,1.7),(16.3,3.6),(20.4,5.3),(24.5,5.5),(27.8,4.0),(31.9,2.1),(35.1,1.7),(38.4,2.6),(41.7,2.1),(44.9,1.3),(49.0,-0.2),(52.3,0.4),(55.6,-0.2),(58.8,0.5),(62.9,1.7),(67.0,-0.2),(71.1,-1.4),(76.8,-1.8),(83.3,-1.4),(94.8,-1.0),(112,-0.4)],
    "HKPS": [(-10,0),(1.6,0),(4.1,-0.2),(7.4,-2.2),(10.6,-1.0),(13.9,1.3),(17.2,3.2),(20.4,4.0),(23.7,4.8),(25.8,5.5),(28.6,2.8),(31.0,-0.6),(34.3,1.3),(37.6,0.2),(40.8,0.2),(44.9,-1.0),(49.0,-2.5),(52.3,-2.1),(55.6,-2.5),(58.8,0.2),(62.1,2.5),(65.4,0.5),(70.3,-2.9),(75.2,-1.8),(80.1,-1.4),(86.6,-1.0),(99.7,-0.4),(112,0.2)],
    "DAV": [(-10,0),(0,0),(2.5,-0.2),(4.9,-2.8),(7.4,-5.2),(9.8,-5.7),(13.1,-3.2),(16.3,-1.3),(20.4,1.4),(23.7,2.5),(26.1,5.6),(29.4,1.4),(32.7,3.3),(35.9,4.5),(39.2,3.7),(43.3,2.5),(47.4,0.6),(52.3,-1.3),(55.6,1.4),(58.5,4.1),(62.1,1.0),(67.8,-2.5),(71.9,-0.9),(75.2,-0.3),(80.1,-1.7),(86.6,-0.8),(99.7,-0.3),(112,0)],
    "PMG": [(-10,0),(1.6,0),(4.1,-0.2),(6.5,-3.2),(9.0,-5.7),(12.3,-3.2),(16.3,-0.5),(21.2,1.4),(25.3,4.1),(28.6,2.2),(31.9,2.9),(35.9,4.1),(39.2,2.9),(44.1,1.0),(48.2,-0.9),(51.5,0.6),(54.7,3.7),(58.0,0.6),(62.1,-1.7),(67.0,-0.5),(71.1,0.2),(75.2,-0.5),(80.1,-0.5),(86.6,-0.2),(112,0)],
    "SBM": [(-10,0.2),(0,0.2),(2.5,0),(4.9,-2.3),(8.2,-4.6),(11.4,-5.8),(15.5,-4.2),(18.8,-2.7),(22.9,-0.8),(25.3,2.7),(28.6,1.5),(31.9,3.5),(35.9,4.2),(40.0,3.8),(44.1,3.5),(46.6,2.3),(49.0,0.2),(52.3,1.4),(55.6,2.7),(58.8,1.5),(63.7,0),(67.8,0),(72.7,0.9),(76.8,0),(80.1,-0.6),(86.6,0),(112,0)],
    "PSI": [(-10,0),(1.6,0),(4.9,-2.1),(8.2,-4.0),(12.3,-5.5),(18.0,-5.2),(22.9,-4.0),(26.1,-2.5),(30.2,-0.5),(34.3,0.6),(37.6,1.2),(41.7,1.8),(44.9,0.6),(47.4,-0.8),(51.5,1.4),(55.6,2.3),(60.5,1.4),(65.4,2.2),(70.3,1.4),(76.8,0.8),(86.6,0.2),(102.9,0),(112,-0.2)],
    "NWAO": [(-10,0),(0,0),(3.3,-1.5),(6.5,-3.8),(9.8,-5.6),(13.9,-4.2),(18.0,-2.7),(21.2,-1.2),(24.5,0.8),(28.6,2.7),(32.7,3.8),(35.9,4.6),(38.9,5.0),(41.7,2.3),(44.9,0.2),(49.0,2.3),(53.9,3.1),(58.0,1.2),(61.3,2.7),(65.4,1.5),(71.9,0.4),(80.1,-0.2),(94.8,-0.4),(112,0)],
    "DGAR": [(-10,0),(0,0),(4.1,-3.1),(8.2,-5.6),(12.3,-4.2),(15.5,-5.4),(18.0,-4.2),(21.2,-3.8),(24.5,-1.9),(27.8,0),(31.9,1.5),(34.3,-1.2),(36.8,-2.7),(40.0,-1.2),(44.1,-0.4),(47.4,0.2),(50.7,1.9),(53.9,4.6),(56.4,5.4),(60.5,3.1),(65.4,1.9),(71.9,1.2),(80.1,0.6),(94.8,0.2),(112,0)],
    "RODM": [(-10,0),(0,0),(2.5,-0.8),(4.9,-3.1),(7.8,-4.2),(11.4,-0.8),(14.7,2.9),(18.0,0.8),(22.1,-2.9),(26.1,0.8),(29.4,1.9),(32.7,-1.2),(35.6,-3.1),(39.2,-1.5),(42.5,0),(45.8,0),(49.8,3.1),(53.6,5.5),(57.2,2.3),(62.1,1.2),(68.6,0.4),(73.5,0),(112,0)],
    "RER": [(-10,0),(0,0),(3.3,-1.2),(6.5,-2.2),(9.8,0),(13.1,5.4),(16.3,5.8),(19.6,3.1),(22.9,-0.6),(27.8,2.3),(31.0,0),(34.3,-2.2),(37.6,-1.5),(40.8,0),(44.9,-3.1),(49.0,0),(52.3,1.7),(55.6,0.4),(60.5,-0.2),(70.3,-0.2),(86.6,-0.2),(112,0)],
    "FOMA": [(-10,0),(0,0),(4.1,-0.8),(7.4,0.4),(11.4,3.8),(15.5,5.5),(18.8,3.8),(22.1,-0.8),(27.8,0.4),(31.0,-1.2),(34.0,-2.7),(36.8,-1.9),(40.0,-0.8),(44.1,-3.2),(48.2,-1.5),(52.3,0.8),(57.2,-0.4),(63.7,-0.2),(73.5,0),(112,0)],
    "BOSA": [(-10,0),(0,0),(4.9,0.2),(9.8,1.9),(13.1,3.5),(16.7,5.5),(19.6,3.1),(22.9,-1.5),(27.0,-1.2),(30.2,-2.3),(34.0,-3.2),(37.6,-1.9),(40.0,-1.2),(44.1,-3.5),(48.2,-1.5),(53.9,-0.8),(57.2,-1.5),(63.7,-0.8),(73.5,-0.2),(86.6,0.2),(112,0)],
    "LBTB": [(-10,-0.1),(0,-0.1),(4.9,0.4),(9.8,2.3),(13.1,3.8),(16.7,5.5),(19.6,3.1),(22.9,-0.8),(27.0,-1.2),(31.0,-2.2),(34.3,-3.2),(37.6,-1.9),(40.8,-1.2),(44.1,-3.5),(48.2,-2.3),(52.3,-1.5),(55.6,-2.3),(60.5,-1.5),(67.0,-0.8),(73.5,-0.2),(86.6,0),(112,0)],
    "MBAR": [(-10,0),(0,0),(4.1,0.2),(8.2,1.2),(12.3,2.7),(16.7,5.5),(20.4,2.7),(24.5,1.5),(28.6,0.8),(31.9,-0.4),(35.9,0.2),(38.4,-0.4),(41.7,-2.3),(44.9,-1.9),(49.8,-2.7),(53.9,-1.9),(60.5,-1.2),(70.3,-0.4),(86.6,0),(112,0)],
    "SHEL": [(-10,0),(0,0),(4.1,1.7),(7.4,3.6),(10.6,4.8),(13.9,3.6),(16.7,4.4),(19.6,5.5),(22.9,1.7),(27.0,-1.0),(30.2,-2.5),(34.3,-1.8),(38.4,-1.0),(42.5,-1.8),(45.8,-3.5),(48.2,-5.2),(51.0,-4.5),(54.0,-4.8),(60.5,-3.0),(67.0,-1.0),(73.5,0.2),(80.1,0.5),(86.6,0.5),(112,0.3)],
    "ASCN": [(-10,0),(0,0),(2.5,0.5),(4.9,4.0),(7.4,5.2),(9.8,5.9),(12.3,4.4),(14.7,2.1),(16.7,0.2),(18.8,2.8),(20.9,4.2),(24.5,2.1),(28.6,1.7),(32.7,0.9),(35.9,-0.6),(39.2,-0.2),(41.7,0.2),(44.1,1.8),(46.6,-0.6),(49.8,-3.7),(53.9,-4.3),(57.2,-4.6),(62.1,-3.3),(68.6,-1.8),(73.5,-1.0),(80.1,-0.5),(89.9,-0.2),(112,0)],
    "DBIC": [(-10,0),(0,0),(2.5,0.2),(4.9,4.0),(7.4,5.2),(9.5,5.7),(12.3,2.1),(14.7,-1.0),(16.7,-3.5),(18.8,-0.6),(21.2,1.8),(25.3,2.5),(29.4,1.7),(33.5,0.9),(36.8,0.3),(40.0,0.9),(43.3,2.8),(45.8,0.2),(48.2,-2.9),(52.3,-4.5),(56.4,-4.1),(60.5,-2.5),(65.4,-1.4),(70.3,-0.8),(78.4,-0.3),(94.8,-0.1),(112,0.2)],
    "TAM": [(-10,0),(0.8,0),(2.5,0.2),(4.9,2.9),(7.4,3.7),(9.0,3.7),(11.4,0.6),(13.9,-2.8),(16.7,-5.5),(19.6,-3.6),(22.9,-1.3),(25.3,0.2),(28.6,-0.9),(31.0,0.2),(34.3,1.0),(37.6,1.9),(40.8,1.0),(44.1,3.5),(47.4,1.0),(52.3,-0.9),(57.2,-0.5),(67.0,-0.2),(86.6,0),(112,0)],
    "SACV": [(-10,0),(0.8,0),(2.5,0.2),(4.9,2.1),(8.2,3.3),(11.4,1.4),(13.9,-2.1),(17.2,-5.5),(20.4,-3.6),(23.7,1.0),(27.0,0.2),(30.2,1.4),(33.5,0.6),(36.8,1.8),(40.0,2.5),(43.3,0.2),(46.6,-0.2),(49.8,2.2),(53.9,-0.9),(58.0,0.6),(62.1,-0.5),(67.0,0.2),(73.5,-0.2),(86.6,0),(112,0)],
    "TIP": [(-10,0),(0.8,0),(3.3,0.6),(6.5,1.4),(10.6,-0.5),(14.7,-3.6),(18.0,-5.3),(21.2,-5.5),(23.7,-3.6),(26.5,0.6),(29.4,-0.9),(32.7,0.2),(35.9,1.8),(40.0,3.3),(44.1,1.4),(49.0,2.9),(53.1,2.2),(57.2,1.0),(62.1,1.0),(70.3,0.6),(80.1,0),(86.6,-0.2),(112,0)],
    "AQU": [(-10,0),(0.8,0),(3.3,0.5),(6.5,1.3),(9.8,-0.2),(13.1,-3.7),(16.3,-5.6),(19.6,-5.6),(22.1,-4.8),(25.3,-0.2),(27.0,0.2),(30.2,-1.0),(33.5,0.5),(36.8,2.1),(40.0,3.6),(43.3,1.7),(45.8,0.9),(49.0,2.5),(52.3,3.3),(55.6,2.5),(58.8,0.5),(61.3,2.1),(65.4,1.3),(71.9,0.5),(80.1,0),(112,0)],
    "KSP": [(-10,0),(0.8,0),(4.1,0.6),(6.9,1.6),(9.8,-0.2),(13.1,-3.6),(16.3,-5.5),(20.4,-4.8),(22.1,-4.4),(24.5,-2.1),(27.8,1.2),(31.0,-0.2),(34.3,1.8),(37.6,3.3),(40.8,4.1),(44.9,2.2),(48.7,0.2),(52.3,2.5),(54.7,3.7),(58.8,1.8),(62.1,1.0),(64.5,2.5),(68.6,1.4),(73.5,0.8),(80.1,0.4),(86.6,0),(112,0)],
    "KPL": [(-10,0),(0.8,0),(4.1,0.6),(6.5,1.5),(9.8,-0.5),(13.1,-3.6),(16.3,-5.5),(19.6,-5.5),(22.1,-4.8),(24.5,-5.2),(27.8,-1.3),(29.4,1.5),(32.7,-1.3),(35.9,0.2),(40.0,2.5),(43.3,3.9),(46.6,2.5),(50.7,0.2),(53.9,2.2),(57.2,3.9),(60.5,2.2),(63.7,1.2),(67.0,2.5),(71.9,1.4),(78.4,0.6),(86.6,0),(112,0)],
    "SCO": [(-10,0),(0.8,0),(3.3,1.0),(6.5,2.5),(9.8,0.2),(13.1,-2.9),(16.3,-5.2),(19.6,-4.8),(21.2,-4.0),(23.7,-4.8),(26.5,1.0),(29.4,2.2),(32.7,-0.2),(35.9,-0.9),(40.0,1.8),(44.9,4.1),(49.0,1.8),(53.9,-1.2),(58.8,3.3),(62.9,1.0),(67.0,0.6),(71.1,2.5),(75.2,1.4),(81.7,0.8),(89.9,0.2),(112,0)],
    "DAG": [(-10,0),(0.8,0),(3.3,0.8),(5.7,2.7),(9.8,0.4),(13.1,-1.9),(16.7,-4.2),(21.2,-3.8),(25.3,-5.4),(27.8,-2.0),(31.0,2.2),(34.3,-1.4),(36.8,-2.5),(40.0,-1.4),(43.3,2.2),(47.0,4.5),(50.7,1.0),(55.6,-1.7),(58.8,1.7),(62.1,3.7),(65.4,1.8),(68.6,0.2),(71.9,2.5),(76.8,1.7),(83.3,1.0),(94.8,0.4),(112,0)],
    "RES": [(-10,0),(0.8,0),(4.1,1.8),(6.9,4.1),(10.6,1.0),(13.1,-2.1),(16.3,-3.8),(20.4,-2.8),(22.9,-3.2),(25.8,-5.5),(28.6,-1.3),(31.0,1.9),(34.3,-2.8),(37.6,-5.0),(40.8,-2.8),(44.9,1.8),(48.2,4.8),(51.5,1.0),(54.7,-3.2),(58.8,1.0),(62.9,3.7),(67.0,1.0),(70.3,1.0),(74.3,2.9),(80.1,1.4),(86.6,1.0),(94.8,0.4),(112,-0.2)],
}

SH_SYN = {
    "INK": [(-10,0.2),(-4.9,0.4),(-0.8,0),(2.5,0),(4.9,2.2),(7.4,4.3),(10.6,3.1),(14.7,4.1),(17.2,2.2),(20.4,-0.2),(24.5,-2.5),(27.8,-3.6),(31.0,-3.2),(34.3,-4.4),(38.4,-5.5),(40.8,-4.8),(44.1,-2.5),(47.4,-0.2),(51.5,3.8),(54.7,3.3),(58.8,1.8),(62.9,2.9),(67.0,0.6),(71.1,0),(76.8,0.2),(81.7,-0.2),(86.6,-0.3),(94.8,0),(102.9,0.2),(112,0)],
    "TIXI": [(-10,-1.2),(0.8,-1.2),(4.1,0.5),(8.2,3.2),(12.3,5.5),(15.5,5.5),(19.6,5.0),(22.1,3.6),(25.3,0.5),(29.4,-1.4),(32.7,-2.5),(36.8,-4.5),(40.8,-2.2),(44.9,-1.8),(49.0,0.5),(52.3,2.2),(58.0,1.7),(62.1,0.9),(63.7,-0.6),(68.6,-1.0),(73.5,-1.8),(78.4,-0.6),(86.6,0.2),(94.8,0.4),(102.9,0.2),(112,0)],
    "BILL": [(-10,-1.4),(1.6,-1.4),(4.9,-0.2),(9.0,2.1),(12.3,4.0),(15.5,5.2),(19.6,5.5),(22.9,3.6),(27.0,0.5),(31.0,-1.8),(35.1,-3.3),(39.2,-4.5),(43.3,-3.3),(47.4,-2.2),(50.7,-0.2),(53.9,1.7),(57.2,2.5),(62.1,1.7),(67.0,0.9),(71.9,-0.2),(76.8,-1.4),(81.7,-1.0),(89.9,-0.6),(99.7,0.2),(106.2,0.5),(112,0.2)],
    "PET": [(-10,-1.2),(-3.3,-1.2),(1.6,-1.6),(4.9,0.2),(9.0,2.1),(13.1,4.4),(18.0,5.9),(21.2,4.8),(24.5,1.3),(27.8,-1.4),(32.7,-2.9),(37.6,-4.1),(42.5,-4.2),(45.8,-2.9),(50.7,0.9),(53.9,2.8),(58.0,3.6),(62.1,2.5),(67.0,0.9),(71.9,-0.6),(76.8,-1.4),(83.3,-0.6),(89.9,-0.2),(94.8,0.9),(99.7,0.5),(106.2,0.2),(112,-0.1)],
    "YSS": [(-10,-1.3),(-3.3,-1.5),(1.6,-1.8),(4.9,-0.9),(9.0,0.6),(13.1,2.9),(18.0,5.4),(21.2,4.8),(24.5,2.2),(29.4,-0.9),(34.3,-2.3),(39.2,-2.8),(44.1,-2.3),(49.0,-0.9),(53.9,0.6),(58.8,1.2),(63.7,0.6),(70.3,-0.5),(76.8,-1.1),(81.7,-0.9),(88.2,-0.2),(94.8,0.5),(101.3,0.8),(106.2,0.5),(112,0.2)],
    "BJT": [(-10,-1.2),(-3.3,-1.4),(2.5,-2.3),(5.7,-1.4),(9.8,0.5),(13.9,2.8),(18.0,4.8),(21.2,5.5),(24.5,4.4),(27.8,2.1),(32.7,-0.6),(39.2,-1.6),(44.1,-1.0),(49.0,-1.0),(53.9,0.2),(57.2,0.4),(60.5,0.4),(64.5,0.2),(70.3,-1.0),(76.8,-0.8),(85,-0.1),(94.8,-0.1),(112,0)],
    "INU": [(-10,-1.3),(-4.9,-1.7),(-1.6,-3.6),(1.6,-5.2),(4.9,-4.0),(8.2,-3.2),(12.3,-2.1),(14.7,0.2),(17.2,4.4),(18.8,5.6),(21.2,4.4),(24.5,3.7),(26.1,2.9),(28.6,3.8),(31.0,4.4),(34.3,2.2),(37.6,1.8),(40.8,2.9),(44.9,2.2),(49.0,1.4),(52.3,2.2),(56.4,2.5),(60.5,-0.2),(63.7,-2.5),(67.0,-4.0),(70.3,-2.5),(75.2,-2.1),(80.1,-2.5),(85,-0.9),(89.9,-0.2),(96.4,0.2),(102.9,0.6),(112,0.4)],
    "SSE": [(-10,-0.6),(-4.9,-0.6),(0,-1.8),(4.9,-3.9),(8.2,-2.9),(12.3,-0.2),(16.3,2.9),(20.4,5.3),(24.5,5.2),(27.8,2.5),(31.0,0.2),(35.1,-0.6),(39.2,-1.8),(44.1,-0.6),(48.2,-0.6),(51.5,-1.4),(53.9,0.2),(57.2,0.9),(61.3,1.7),(64.5,0.2),(68.6,-1.0),(71.9,-1.8),(78.4,-1.4),(86.6,-0.6),(94.8,-0.2),(102.9,0),(112,-0.1)],
    "HKPS": [(-10,0),(-1.6,0),(1.6,-1.0),(4.9,-4.1),(8.2,-4.7),(12.3,-3.3),(15.5,-1.0),(18.8,2.8),(22.1,5.5),(25.3,4.4),(28.6,2.1),(31.9,0.5),(36.0,-0.2),(40.0,-1.0),(44.1,-1.4),(48.2,-1.0),(52.3,0.2),(55.6,1.3),(58.0,1.7),(61.3,0.5),(65.4,-1.4),(70.3,-2.2),(75.2,-1.8),(81.7,-1.4),(89.9,-0.4),(99.7,0.5),(106.2,0.5),(112,0.2)],
    "DAV": [(-10,0.6),(-5.7,-0.2),(-2.5,0.4),(0.8,0.8),(4.1,-0.9),(7.4,-4.0),(10.6,-5.9),(13.9,-4.0),(17.2,-1.3),(21.2,1.4),(24.5,2.5),(28.6,4.1),(32.7,3.3),(36.8,2.2),(40.8,1.0),(44.9,-0.5),(49.0,-1.3),(53.9,-0.5),(58.0,-0.5),(62.9,1.0),(67.0,-0.9),(69.4,-2.5),(73.5,-1.3),(77.6,-0.2),(81.7,0.6),(86.6,0.2),(94.8,-0.2),(102.9,0.2),(112,0)],
    "PMG": [(-10,0.2),(-1.6,0.2),(2.5,-0.5),(4.9,-2.5),(8.2,-5.7),(12.3,-2.5),(16.3,-0.2),(20.4,1.4),(24.5,2.9),(28.6,3.8),(32.7,3.7),(36.8,3.3),(40.8,2.2),(44.9,0.6),(49.0,-0.9),(53.1,-2.8),(56.4,-0.9),(60.5,0.6),(64.5,-0.2),(68.6,0.6),(71.9,-0.2),(76.8,-0.5),(83.3,0.2),(89.9,-0.2),(96.4,-0.3),(102.9,0.6),(107.8,0.5),(112,0)],
    "SBM": [(-10,0.6),(-1.6,0.4),(1.6,0),(4.9,-2.3),(8.2,-5.0),(11.4,-5.8),(14.7,-5.0),(18.8,-2.3),(22.9,-0.4),(26.1,2.3),(29.4,4.2),(31.9,4.8),(35.9,4.2),(40.0,3.1),(44.9,0.8),(48.2,-0.8),(51.5,-1.9),(54.7,-0.4),(58.8,1.2),(62.1,0.8),(67.0,-0.4),(71.9,0.4),(76.8,0),(83.3,-0.4),(89.9,0.2),(98.0,-0.2),(112,0)],
    "PSI": [(-10,2.2),(-3.3,2.3),(0.8,1.8),(4.1,-0.9),(8.2,-3.6),(12.3,-5.5),(18.0,-5.2),(22.9,-3.2),(27.8,-0.9),(32.7,0.2),(37.6,1.0),(40.8,0.6),(44.1,1.8),(47.4,0.8),(50.7,-0.2),(54.7,0.6),(58.8,1.0),(65.4,0.2),(70.3,0.2),(76.8,0),(83.3,-0.2),(89.9,0.6),(96.4,0.2),(102.9,-0.3),(107.8,-0.5),(112,-0.2)],
    "NWAO": [(-10,1.4),(-3.3,1.1),(0,0),(3.3,-2.3),(6.5,-4.2),(11.4,-5.4),(15.5,-5.8),(18.8,-3.8),(22.9,-0.8),(26.1,0.8),(29.4,2.3),(33.5,3.2),(37.6,4.8),(40.8,1.9),(44.9,-0.4),(49.0,-0.4),(53.1,0.4),(57.2,2.7),(61.3,3.8),(65.4,3.1),(70.3,0.4),(75.2,-0.8),(80.1,-1.5),(86.6,-0.8),(91.5,0.2),(96.4,0),(102.9,0),(112,0.2)],
    "DGAR": [(-10,1.7),(-4.9,1.5),(0,1.2),(4.1,-0.4),(8.2,-3.1),(12.3,-5.0),(16.3,-5.0),(19.6,-2.3),(22.9,0.4),(26.1,2.7),(30.2,2.7),(32.7,2.3),(35.9,0),(39.2,-2.7),(41.7,-4.5),(44.9,-1.9),(49.0,3.1),(53.1,5.4),(57.2,4.2),(62.1,2.7),(68.6,0.4),(72.7,-2.2),(76.8,-0.4),(80.9,1.1),(85,2.2),(89.9,1.1),(94.8,0),(99.7,-0.9),(106.2,0.4),(112,0)],
    "RODM": [(-10,1.5),(-4.9,0.8),(0,0.4),(4.1,-0.8),(7.4,0.4),(11.4,1.9),(15.5,1.5),(19.6,-0.8),(23.2,-5.4),(27.0,0.8),(31.0,4.6),(34.3,0),(37.6,-3.8),(40.0,-3.1),(42.5,-0.8),(44.9,0.8),(47.4,-3.1),(49.0,-5.4),(52.3,-0.8),(58.0,3.8),(62.1,0.8),(65.4,-1.5),(68.6,0.4),(71.9,-1.5),(75.2,0),(80.1,-0.4),(86.6,0),(93.1,0.4),(100.5,1.5),(106.2,0),(112,-0.8)],
    "RER": [(-10,-0.2),(-3.3,-0.6),(1.6,-0.8),(4.9,-1.5),(8.2,0),(12.3,3.8),(16.3,6.0),(19.6,3.1),(22.9,-1.2),(26.1,1.5),(29.4,3.1),(32.7,0),(35.1,-2.3),(37.6,-0.8),(40.0,3.1),(42.5,-0.8),(45.4,-4.5),(48.2,-1.5),(52.3,1.2),(57.2,1.2),(61.3,0),(64.5,-1.7),(68.6,-0.4),(73.5,0.8),(78.4,1.5),(82.5,0),(86.6,-1.2),(91.5,-0.4),(96.4,0.4),(102.9,0),(112,0)],
    "FOMA": [(-10,-0.8),(-4.9,-0.4),(0,-0.2),(4.1,-0.8),(8.2,0.8),(12.3,3.8),(18.0,5.5),(21.2,3.1),(24.5,-0.8),(27.8,-1.5),(32.7,-3.1),(36.0,-5.4),(39.2,-0.8),(41.7,1.7),(44.9,-0.4),(47.4,-2.3),(51.5,-0.4),(54.7,3.2),(58.0,0),(62.1,-1.9),(67.8,-2.3),(72.7,0),(77.6,3.2),(81.7,0.8),(86.6,-1.5),(91.5,-0.8),(96.4,-0.4),(102.9,0.4),(112,0.2)],
    "BOSA": [(-10,-0.4),(-3.3,-0.6),(1.6,-0.4),(6.5,0.8),(11.4,2.7),(16.7,5.4),(20.4,3.1),(24.5,-0.8),(28.6,-3.1),(31.9,-4.6),(35.9,-2.7),(39.2,-0.8),(43.3,-1.2),(47.4,-0.4),(50.7,0),(53.9,2.7),(58.0,0.8),(62.9,-1.5),(67.8,-2.5),(72.7,-0.4),(79.2,1.9),(84.1,0.8),(89.1,-1.2),(94.8,-0.8),(99.7,0),(104.6,0.8),(112,0)],
    "LBTB": [(-10,-0.4),(-3.3,-0.6),(2.5,-0.4),(6.5,0.8),(11.4,3.1),(16.3,5.4),(20.4,2.7),(24.5,-0.8),(28.6,-3.1),(31.4,-4.6),(35.1,-2.7),(39.2,-1.2),(42.5,-1.9),(47.4,-1.5),(50.3,0.4),(53.9,3.2),(57.2,0),(62.1,-2.3),(67.0,-3.1),(71.9,-0.8),(77.6,1.7),(83.3,0.8),(89.9,-0.4),(96.4,0),(102.9,0.4),(112,-0.4)],
    "MBAR": [(-10,-0.8),(-1.6,-1.2),(2.5,-0.8),(6.5,0.8),(11.4,2.7),(14.7,4.2),(16.7,5.4),(19.6,3.1),(23.7,0.8),(27.8,-0.8),(32.7,-1.2),(37.6,-1.2),(41.7,-1.9),(45.8,-1.2),(49.8,-0.4),(53.9,0.6),(58.0,-0.4),(62.9,-0.8),(68.6,-0.4),(73.5,-0.2),(80.1,-0.4),(86.6,0),(91.5,0.4),(98.0,0),(112,0)],
    "SHEL": [(-10,0),(0,0),(3.3,0.5),(6.5,2.1),(10.6,3.6),(14.7,5.2),(17.2,5.5),(20.4,4.0),(23.7,0.9),(27.8,-2.2),(31.0,-2.3),(35.0,-1.6),(39.0,-1.0),(44.1,-2.5),(47.4,-3.7),(52.3,-4.4),(54.7,-1.6),(58.8,2.8),(62.1,0.9),(67.0,-2.2),(71.9,-0.6),(76.8,0.9),(84.0,3.1),(88.2,1.0),(93.0,-0.6),(97.9,-1.4),(102.9,0.2),(106.0,1.0),(112,0.2)],
    "ASCN": [(-10,-0.3),(-3.3,-0.5),(1.6,-0.2),(4.9,0.5),(8.2,1.1),(11.4,0.5),(16.3,0.3),(18.8,2.5),(21.2,5.7),(24.5,4.0),(27.8,2.5),(31.0,0.9),(34.3,-1.0),(37.6,-2.0),(40.8,-0.2),(43.3,0.2),(45.8,-0.6),(49.0,-1.8),(52.3,1.8),(55.6,-0.2),(58.8,-1.0),(63.7,0.5),(67.8,2.3),(71.1,-0.2),(73.5,-1.0),(76.8,1.3),(80.1,-0.2),(82.5,-2.5),(86.6,0.2),(90.7,1.8),(94.8,0.5),(99.7,-1.4),(104.6,-0.2),(112,0.8)],
    "DBIC": [(-10,-0.2),(-1.6,-0.2),(2.5,0),(4.9,0.3),(7.4,0.8),(10.6,-0.2),(14.7,-1.4),(17.9,0.2),(22.1,4.0),(26.1,4.2),(28.6,5.7),(31.9,3.2),(36.0,0.2),(39.2,-2.5),(42.5,-4.4),(44.9,-4.8),(48.2,-2.5),(52.3,-1.0),(54.7,-1.4),(58.0,-2.9),(62.1,-1.8),(67.0,-0.2),(71.9,0.5),(76.8,1.5),(81.7,0.5),(86.6,0.9),(91.5,0.5),(96.4,-0.2),(101.3,-0.6),(106.2,0.3),(112,0.5)],
    "TAM": [(-10,0.6),(-1.6,0.8),(1.6,0.8),(4.9,0.6),(8.2,-0.2),(12.3,-2.8),(15.5,-5.2),(17.2,-5.8),(20.4,-3.6),(24.5,-1.3),(27.8,1.0),(31.9,2.5),(36.0,3.7),(39.2,2.9),(42.5,1.0),(45.8,-0.2),(50.7,-0.2),(57.2,-0.4),(63.7,-0.2),(70.3,-0.2),(76.8,0.4),(81.7,0.8),(86.6,0.4),(94.8,0.2),(102.9,0.4),(112,-0.2)],
    "SACV": [(-10,0.1),(-3.3,0.1),(2.5,-0.2),(6.5,-0.9),(10.6,-2.5),(14.7,-4.4),(17.6,-5.5),(20.4,-3.2),(23.7,0.2),(27.0,2.5),(30.2,2.5),(34.3,2.2),(38.4,2.5),(41.7,1.8),(44.9,-0.9),(48.2,1.0),(51.5,1.8),(54.7,0.2),(58.0,-0.9),(62.1,-0.2),(67.0,1.0),(71.9,-0.5),(76.8,0.4),(83.3,-0.5),(89.9,-0.2),(94.8,0.1),(99.7,0.6),(106.2,-0.2),(112,0)],
    "TIP": [(-10,0.6),(-3.3,0.4),(1.6,-0.2),(4.9,-0.5),(9.8,-1.7),(13.9,-3.6),(18.8,-5.3),(22.1,-5.8),(25.3,-3.6),(29.4,0.2),(32.7,2.2),(36.8,3.3),(40.0,3.3),(42.5,3.5),(44.9,4.5),(48.2,3.3),(51.5,2.7),(53.9,3.5),(57.2,1.4),(62.1,-0.2),(70.3,-1.3),(78.4,-1.7),(84.9,-0.5),(91.5,0.6),(98.0,1.2),(104.6,0.9),(112,0)],
    "AQU": [(-10,0.3),(-3.3,0.5),(3.3,0.8),(8.2,0.9),(12.3,-0.2),(16.3,-2.5),(20.4,-4.8),(24.5,-5.8),(28.6,-4.8),(31.9,-2.5),(35.1,0.5),(38.4,3.2),(40.8,4.0),(44.9,4.0),(48.2,4.4),(51.5,2.5),(53.9,0.5),(56.4,0.9),(58.8,1.7),(62.1,0.5),(67.0,0.5),(73.5,-0.2),(80.1,-0.8),(85,-1.0),(89.9,-0.5),(96.4,0.2),(102.9,0),(112,0.2)],
    "KSP": [(-10,0.1),(-3.3,0.2),(2.5,0),(5.7,0.2),(8.2,-0.2),(11.4,-1.7),(16.3,-4.0),(21.2,-4.8),(24.5,-4.0),(27.8,-1.3),(31.0,2.5),(34.3,4.5),(38.4,4.5),(40.8,4.8),(42.5,5.6),(44.9,2.5),(49.0,0.2),(53.9,0.2),(60.5,0.6),(65.4,-0.5),(70.3,-0.4),(75.2,-0.5),(80.9,-0.9),(85,-1.7),(88.2,-0.5),(94.8,0.2),(102.9,0.1),(112,0)],
    "KPL": [(-10,0.6),(-3.3,0.6),(2.5,0.6),(4.9,1.0),(8.2,0.2),(11.4,-1.3),(14.7,-2.8),(18.0,-4.0),(22.1,-5.5),(24.5,-5.5),(27.8,-3.6),(31.0,-1.3),(35.9,0.6),(40.0,2.2),(44.1,3.9),(47.4,2.5),(50.7,1.7),(55.6,0.6),(60.5,1.0),(65.4,0.2),(70.3,-0.2),(76.8,0.1),(86.6,-0.2),(94.8,0.1),(102.9,0.1),(112,0.2)],
    "SCO": [(-10,0.5),(-1.6,0.4),(2.5,0.4),(4.9,1.4),(6.9,2.5),(11.4,1.4),(16.3,-1.3),(19.6,-3.6),(22.9,-4.8),(25.3,-5.8),(28.6,-4.0),(31.9,-1.7),(35.9,-0.9),(40.0,1.0),(43.3,3.3),(46.6,5.0),(49.8,2.5),(53.9,-0.9),(58.0,1.0),(62.1,0.6),(66.2,1.8),(70.3,1.8),(75.2,1.0),(80.1,0.2),(86.6,-0.4),(94.8,-0.5),(102.9,-0.1),(112,0)],
    "DAG": [(-10,0),(-3.3,0.1),(1.6,0.1),(4.1,2.2),(6.5,3.5),(9.8,2.6),(13.9,1.5),(17.2,0),(21.2,-2.8),(24.5,-4.4),(26.1,-5.4),(29.4,-2.8),(32.7,-0.9),(37.6,-1.3),(40.8,0.2),(44.1,2.5),(47.4,3.7),(50.7,2.2),(54.7,-2.1),(58.8,-0.2),(63.7,0.6),(68.6,2.2),(72.2,2.5),(76.0,0.2),(80.1,-0.2),(86.6,0.2),(96.4,-0.2),(112,0)],
    "RES": [(-10,0),(-1.6,0),(2.5,0.2),(5.7,2.5),(9.8,3.5),(13.9,3.6),(17.2,1.8),(20.4,-2.8),(22.9,-4.4),(26.1,-5.8),(29.4,-4.4),(32.7,-3.2),(36.8,-3.6),(40.8,-2.5),(44.9,-1.3),(49.0,0.6),(53.9,1.0),(60.5,1.0),(67.0,1.4),(72.7,1.4),(76.8,0.6),(81.7,-0.7),(86.6,0.2),(94.8,-0.2),(102.9,-0.2),(112,-0.4)],
}

# ---------------- styling ----------------
sns.set_theme(style="white")
plt.rcParams["font.family"] = ["Liberation Serif", "DejaVu Serif"]
plt.rcParams["mathtext.fontset"] = "custom"
plt.rcParams["mathtext.rm"] = "Liberation Serif"
plt.rcParams["mathtext.it"] = "Liberation Serif:italic"

FS = 14
AMP_SCALE = 0.1      # normalised amplitude -> trace spacing units
GRID = "#b5b5b5"
RED = "#f01414"

W, H = 778, 1532
fig = plt.figure(figsize=(W / 100, H / 100), dpi=100)
ax_p = fig.add_axes([60 / W, 1 - 1488 / H, 248 / W, 1455 / H])
ax_s = fig.add_axes([455 / W, 1 - 1488 / H, 248 / W, 1455 / H])


def long_frame(stations, traces):
    rows = []
    for i, st in enumerate(stations):
        for t, v in traces[st]:
            rows.append((st, t, -i + AMP_SCALE * v))
    return pd.DataFrame(rows, columns=["station", "t", "y"])


def draw_panel(ax, stations, az, dist, amps, obs, syn):
    n = len(stations)
    ax.set_xlim(-10, 112)
    ax.set_ylim(-(n - 1) - 1.0, 0.53)
    for x in (0, 40, 80):
        ax.axvline(x, color=GRID, lw=1.0, zorder=0)
    for i in range(n):
        ax.axhline(-i, color=GRID, lw=0.9, zorder=0)

    sns.lineplot(data=long_frame(stations, syn), x="t", y="y", units="station",
                 estimator=None, sort=False, color=RED, linewidth=1.15,
                 legend=False, ax=ax, zorder=2)
    sns.lineplot(data=long_frame(stations, obs), x="t", y="y", units="station",
                 estimator=None, sort=False, color="black", linewidth=1.15,
                 legend=False, ax=ax, zorder=3)

    tr = blended_transform_factory(ax.transAxes, ax.transData)
    for i in range(n):
        ax.text(-0.032, -i + 0.03, f"{az[i]:.1f}°", ha="right", va="baseline",
                fontsize=FS, transform=tr)
        ax.text(-0.032, -i - 0.31, f"{dist[i]:.1f}°", ha="right", va="baseline",
                fontsize=FS, transform=tr)
        ax.text(1.028, -i + 0.13, f"{amps[i]:.2f}", ha="right", va="baseline",
                fontsize=FS, transform=tr)
        ax.text(1.05, -i - 0.14, stations[i], ha="left", va="baseline",
                fontsize=FS, transform=tr)

    for side in ("top", "left", "right"):
        ax.spines[side].set_visible(False)
    ax.spines["bottom"].set_color("black")
    ax.spines["bottom"].set_linewidth(1.3)
    ax.set_yticks([])
    ax.set_xticks([0, 40, 80])
    ax.tick_params(axis="x", length=0, pad=4, labelsize=FS, colors="black")
    ax.set_xlabel("$t$/s", fontsize=FS, labelpad=1)
    ax.set_ylabel("")


draw_panel(ax_p, P_STATIONS, P_AZ, P_DIST, P_AMP, P_OBS, P_SYN)
draw_panel(ax_s, SH_STATIONS, SH_AZ, SH_DIST, SH_AMP, SH_OBS, SH_SYN)

fig.text(73 / W, 1 - 16 / H, "P", fontsize=FS, ha="left", va="center")
fig.text(460 / W, 1 - 16 / H, "SH", fontsize=FS, ha="left", va="center")

fig.savefig("out.png", dpi=100)
